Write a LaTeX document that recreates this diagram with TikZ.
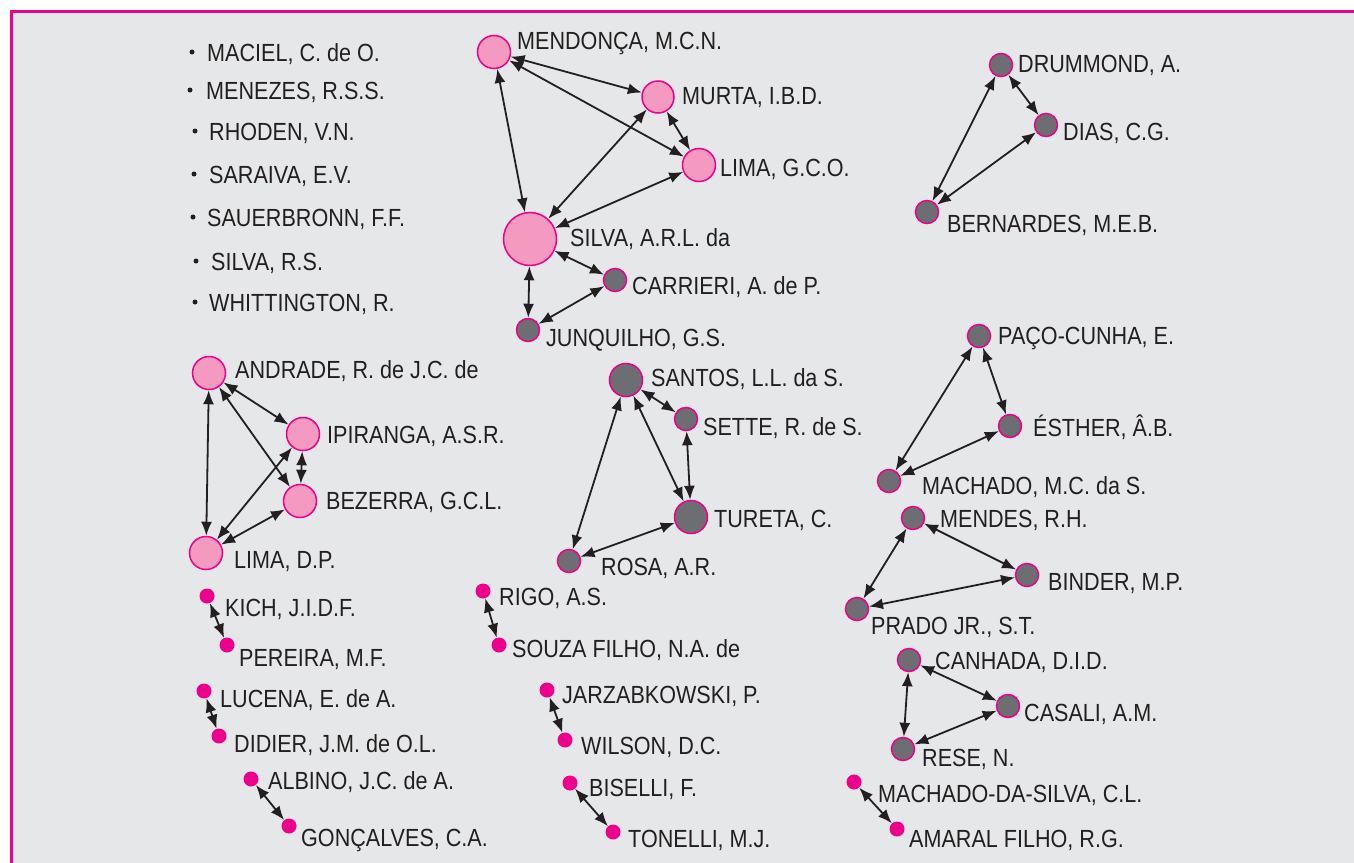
\documentclass[tikz,border=0pt]{standalone}
\usepackage{fontspec}
\setmainfont{Liberation Sans}[FakeStretch=0.87]
\usetikzlibrary{arrows.meta}
\definecolor{mag}{HTML}{EC008C}
\definecolor{pinkfill}{HTML}{F49AC1}
\definecolor{grayfill}{HTML}{6D6E71}
\definecolor{bg}{HTML}{E6E7E8}
\definecolor{txt}{HTML}{231F20}
\tikzset{
  pk/.style={circle, fill=pinkfill, draw=mag, line width=1.5pt, inner sep=0pt, minimum size=#1},
  gr/.style={circle, fill=grayfill, draw=mag, line width=1.5pt, inner sep=0pt, minimum size=#1},
  gr/.default=23pt,
  dt/.style={circle, fill=mag, inner sep=0pt, minimum size=15pt},
  bul/.style={circle, fill=txt, inner sep=0pt, minimum size=5pt},
  lbl/.style={anchor=base west, inner sep=0pt, text=txt, font=\fontsize{24.8}{28}\selectfont},
  lnk/.style={{Latex[length=14pt,width=11pt]}-{Latex[length=14pt,width=11pt]}, line width=1.8pt, draw=txt},
}
\begin{document}
\begin{tikzpicture}[x=1pt,y=-1pt]
\useasboundingbox (0,0) rectangle (1354,862);
\fill[white] (0,0) rectangle (1354,862);
\fill[bg] (11,11) rectangle (1370,880);
\draw[mag, line width=3pt] (11,880) -- (11,11) -- (1370,11);

% bullet list
\node[bul] (b1) at (192,52) {}; \node[lbl] (t1) at (207,61) {MACIEL, C. de O.};
\node[bul] (b2) at (190,90) {}; \node[lbl] (t2) at (206,99) {MENEZES, R.S.S.};
\node[bul] (b3) at (195,131) {}; \node[lbl] (t3) at (209,140) {RHODEN, V.N.};
\node[bul] (b4) at (194,174) {}; \node[lbl] (t4) at (209,183) {SARAIVA, E.V.};
\node[bul] (b5) at (193,217) {}; \node[lbl] (t5) at (207,226) {SAUERBRONN, F.F.};
\node[bul] (b6) at (196,261) {}; \node[lbl] (t6) at (211,270) {SILVA, R.S.};
\node[bul] (b7) at (195,302) {}; \node[lbl] (t7) at (209,311) {WHITTINGTON, R.};

% cluster 1
\node[pk=33pt] (mendonca) at (494,52) {};
\node[pk=32pt] (murta) at (658,97) {};
\node[pk=33pt] (limag) at (699,165) {};
\node[pk=53pt] (silva) at (530,239) {};
\node[gr] (carrieri) at (615,280) {};
\node[gr] (junq) at (528,330) {};
\node[lbl] at (517,49) {MENDONÇA, M.C.N.};
\node[lbl] at (682,104) {MURTA, I.B.D.};
\node[lbl] at (720,176) {LIMA, G.C.O.};
\node[lbl] at (570,246) {SILVA, A.R.L. da};
\node[lbl] at (632,294) {CARRIERI, A. de P.};
\node[lbl] at (546,346) {JUNQUILHO, G.S.};
\draw[lnk] (mendonca) -- (murta);
\draw[lnk] (mendonca) -- (limag);
\draw[lnk] (mendonca) -- (silva);
\draw[lnk] (murta) -- (limag);
\draw[lnk] (murta) -- (silva);
\draw[lnk] (limag) -- (silva);
\draw[lnk] (silva) -- (carrieri);
\draw[lnk] (silva) -- (junq);
\draw[lnk] (carrieri) -- (junq);

% drummond cluster
\node[gr] (drummond) at (1001,65) {};
\node[gr] (dias) at (1046,125) {};
\node[gr] (bern) at (927,212) {};
\node[lbl] at (1018,72) {DRUMMOND, A.};
\node[lbl] at (1063,140) {DIAS, C.G.};
\node[lbl] at (947,232) {BERNARDES, M.E.B.};
\draw[lnk] (drummond) -- (dias);
\draw[lnk] (drummond) -- (bern);
\draw[lnk] (dias) -- (bern);

% andrade cluster
\node[pk=33pt] (andrade) at (209,373) {};
\node[pk=33pt] (ipiranga) at (303,434) {};
\node[pk=33pt] (bezerra) at (300,501) {};
\node[pk=33pt] (limad) at (206,553) {};
\node[lbl] at (235,378) {ANDRADE, R. de J.C. de};
\node[lbl] at (327,443) {IPIRANGA, A.S.R.};
\node[lbl] at (326,509) {BEZERRA, G.C.L.};
\node[lbl] at (234,568) {LIMA, D.P.};
\draw[lnk] (andrade) -- (ipiranga);
\draw[lnk] (andrade) -- (bezerra);
\draw[lnk] (andrade) -- (limad);
\draw[lnk] (ipiranga) -- (bezerra);
\draw[lnk] (ipiranga) -- (limad);
\draw[lnk] (bezerra) -- (limad);

% santos cluster
\node[gr=33pt] (santos) at (626,380) {};
\node[gr] (sette) at (686,419) {};
\node[gr=33pt] (tureta) at (691,517) {};
\node[gr] (rosa) at (569,561) {};
\node[lbl] at (651,386) {SANTOS, L.L. da S.};
\node[lbl] at (703,435) {SETTE, R. de S.};
\node[lbl] at (714,527) {TURETA, C.};
\node[lbl] at (601,575) {ROSA, A.R.};
\draw[lnk] (santos) -- (sette);
\draw[lnk] (santos) -- (tureta);
\draw[lnk] (santos) -- (rosa);
\draw[lnk] (sette) -- (tureta);
\draw[lnk] (tureta) -- (rosa);

% paco cluster
\node[gr] (paco) at (979,336) {};
\node[gr] (esther) at (1010,426) {};
\node[gr] (machmc) at (889,481) {};
\node[lbl] at (998,344) {PAÇO-CUNHA, E.};
\node[lbl] at (1033,436) {ÉSTHER, Â.B.};
\node[lbl] at (922,494) {MACHADO, M.C. da S.};
\draw[lnk] (paco) -- (esther);
\draw[lnk] (paco) -- (machmc);
\draw[lnk] (esther) -- (machmc);

% mendes cluster
\node[gr] (mendes) at (913,518) {};
\node[gr] (binder) at (1027,575) {};
\node[gr] (prado) at (857,609) {};
\node[lbl] at (940,527) {MENDES, R.H.};
\node[lbl] at (1048,590) {BINDER, M.P.};
\node[lbl] at (871,634) {PRADO JR., S.T.};
\draw[lnk] (mendes) -- (binder);
\draw[lnk] (mendes) -- (prado);
\draw[lnk] (binder) -- (prado);

% canhada cluster
\node[gr] (canhada) at (909,660) {};
\node[gr] (casali) at (1008,706) {};
\node[gr] (rese) at (903,749) {};
\node[lbl] at (935,669) {CANHADA, D.I.D.};
\node[lbl] at (1024,721) {CASALI, A.M.};
\node[lbl] at (922,766) {RESE, N.};
\draw[lnk] (canhada) -- (casali);
\draw[lnk] (canhada) -- (rese);
\draw[lnk] (casali) -- (rese);

% pairs
\node[dt] (kich) at (207,596) {};
\node[dt] (pereira) at (227,645) {};
\node[lbl] at (225,616) {KICH, J.I.D.F.};
\node[lbl] at (239,666) {PEREIRA, M.F.};
\draw[lnk] (kich) -- (pereira);

\node[dt] (lucena) at (204,691) {};
\node[dt] (didier) at (219,736) {};
\node[lbl] at (220,707) {LUCENA, E. de A.};
\node[lbl] at (234,752) {DIDIER, J.M. de O.L.};
\draw[lnk] (lucena) -- (didier);

\node[dt] (albino) at (251,779) {};
\node[dt] (goncalves) at (289,826) {};
\node[lbl] at (268,789) {ALBINO, J.C. de A.};
\node[lbl] at (301,846) {GONÇALVES, C.A.};
\draw[lnk] (albino) -- (goncalves);

\node[dt] (rigo) at (483,591) {};
\node[dt] (souza) at (499,645) {};
\node[lbl] at (499,605) {RIGO, A.S.};
\node[lbl] at (512,657) {SOUZA FILHO, N.A. de};
\draw[lnk] (rigo) -- (souza);

\node[dt] (jarz) at (547,690) {};
\node[dt] (wilson) at (565,740) {};
\node[lbl] at (562,703) {JARZABKOWSKI, P.};
\node[lbl] at (581,754) {WILSON, D.C.};
\draw[lnk] (jarz) -- (wilson);

\node[dt] (biselli) at (570,783) {};
\node[dt] (tonelli) at (613,832) {};
\node[lbl] at (589,796) {BISELLI, F.};
\node[lbl] at (628,847) {TONELLI, M.J.};
\draw[lnk] (biselli) -- (tonelli);

\node[dt] (machsilva) at (854,782) {};
\node[dt] (amaral) at (897,829) {};
\node[lbl] at (878,802) {MACHADO-DA-SILVA, C.L.};
\node[lbl] at (909,847) {AMARAL FILHO, R.G.};
\draw[lnk] (machsilva) -- (amaral);
\end{tikzpicture}
\end{document}
